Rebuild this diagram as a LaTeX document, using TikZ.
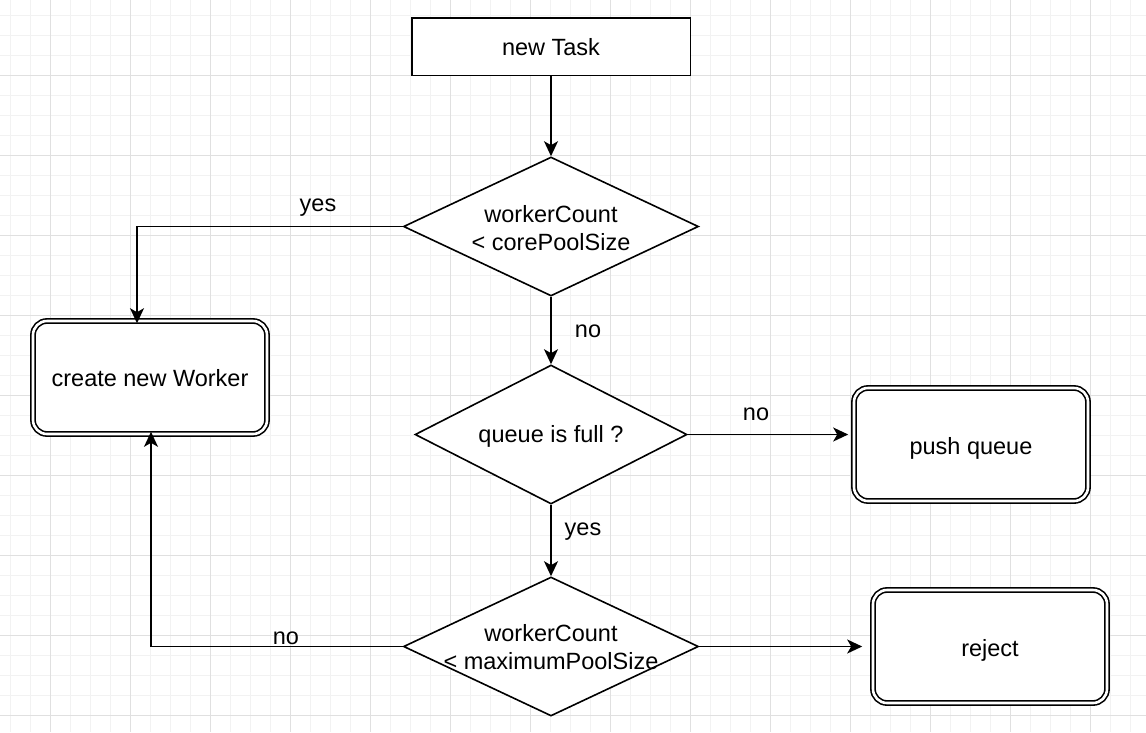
\documentclass[tikz,border=0pt]{standalone}
\usepackage{fontspec}
\setmainfont{Liberation Sans}
\usetikzlibrary{arrows.meta,shapes.geometric,calc}
\definecolor{gridminor}{RGB}{242,242,242}
\definecolor{gridmajor}{RGB}{224,224,224}
\newcommand{\lowered}[2]{\raisebox{-#1}[\height][\depth]{#2}}
\begin{document}
\begin{tikzpicture}[x=1pt,y=-1pt,
  every node/.style={font=\fontsize{23.5}{28}\selectfont},
  taskbox/.style={draw,line width=1.5pt,minimum width=278.5pt,minimum height=57.5pt,inner sep=0pt,fill=white},
  endbox/.style={draw,line width=1.6pt,double,double distance=2.6pt,rounded corners=14pt,
     minimum width=234pt,minimum height=113pt,inner sep=0pt,fill=white},
  decision/.style={draw,diamond,line width=1.6pt,inner sep=0pt,fill=white},
  txt/.style={align=center,inner sep=0pt},
  lbl/.style={inner sep=0pt},
  arr/.style={line width=1.8pt,-{Stealth[length=15pt,width=14pt,inset=4pt]}}
]
\useasboundingbox (0,0) rectangle (1146,732);
\fill[white] (0,0) rectangle (1146,732);
% grid
\foreach \k in {0,...,57} {\draw[gridminor,line width=0.8pt] (10+20*\k,0) -- (10+20*\k,732);}
\foreach \k in {0,...,36} {\draw[gridminor,line width=0.8pt] (0,15+20*\k) -- (1146,15+20*\k);}
\foreach \k in {0,...,14} {\draw[gridmajor,line width=0.9pt] (-30+80*\k,0) -- (-30+80*\k,732);}
\foreach \k in {0,...,9} {\draw[gridmajor,line width=0.9pt] (0,-5+80*\k) -- (1146,-5+80*\k);}

% nodes
\node[taskbox] (task) at (551,46.5) {\lowered{1pt}{new Task}};
\node[decision,minimum width=295pt,minimum height=139pt] (d1) at (551,226.5) {};
\node[txt] (d1t) at (551,228) {workerCount\\< corePoolSize};
\node[decision,minimum width=272pt,minimum height=139pt] (d2) at (551,434.5) {};
\node[txt] (d2t) at (551,436) {queue is full ?};
\node[decision,minimum width=295pt,minimum height=139pt] (d3) at (551,646.5) {};
\node[txt] (d3t) at (551,647) {workerCount\\< maximumPoolSize};
\node[endbox] (cw) at (150,377.5) {\lowered{1pt}{create new Worker}};
\node[endbox] (pq) at (971,444.5) {\lowered{4pt}{push queue}};
\node[endbox] (rj) at (990,646.5) {\lowered{4pt}{reject}};

% connectors
\draw[arr] (task.south) -- (d1.north);
\draw[arr] (d1.west) -| ([xshift=-13pt,yshift=-3pt]cw.north);
\draw[arr] (d1.south) -- (d2.north);
\draw[arr] (d2.east) -- ([xshift=-5pt]d2.east -| pq.west);
\draw[arr] (d2.south) -- (d3.north);
\draw[arr] (d3.east) -- ([xshift=-10pt]d3.east -| rj.west);
\draw[arr] (d3.west) -| ([xshift=1pt,yshift=3pt]cw.south);

% labels
\node[lbl] (lyes1) at (318,208) {yes};
\node[lbl] (lno1) at (588,331) {no};
\node[lbl] (lno2) at (756,414) {no};
\node[lbl] (lyes2) at (583,532) {yes};
\node[lbl] (lno3) at (286,638) {no};
\end{tikzpicture}
\end{document}
